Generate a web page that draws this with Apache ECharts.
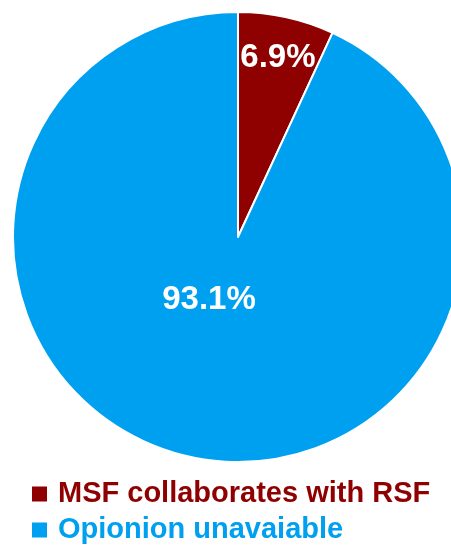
<!DOCTYPE html>
<html>
<head>
<meta charset="utf-8">
<script src="https://cdn.jsdelivr.net/npm/echarts@6/dist/echarts.min.js"></script>
<style>
  html, body { margin: 0; padding: 0; background: #ffffff; }
  #chart { width: 451px; height: 547px; }
</style>
</head>
<body>
<div id="chart"></div>
<script>
// Survey answers, share of respondents (%)
const categories = ['MSF collaborates with RSF', 'Opionion unavaiable'];
const shares = [6.9, 93.1];
const colors = ['#8f0000', '#00a0f0'];
// Label placement inside each slice: fraction of radius and angle shift (deg)
const labelRadiusFrac = [0.825, 0.30];
const labelAngleShift = [0, -13];

const FONT = '"Liberation Sans", Arial, sans-serif';
const CX = 238, CY = 237, R = 225;

const chart = echarts.init(document.getElementById('chart'), null, { renderer: 'canvas' });

const total = shares.reduce((a, b) => a + b, 0);
const midAngles = [];
let acc = 0;
shares.forEach(v => {
  midAngles.push(90 - (acc + v / 2) / total * 360);
  acc += v;
});

chart.setOption({
  animation: false,
  legend: {
    orient: 'vertical',
    left: 32,
    top: 479,
    padding: 0,
    itemWidth: 15,
    itemHeight: 15,
    itemGap: 6,
    icon: 'rect',
    itemStyle: { borderWidth: 0 },
    data: categories.map((c, i) => ({
      name: c,
      textStyle: { color: colors[i] }
    })),
    textStyle: {
      fontFamily: FONT,
      fontWeight: 'bold',
      fontSize: 29,
      lineHeight: 30,
      padding: [0, 0, 0, 6]
    }
  },
  series: [{
    type: 'pie',
    center: [CX, CY],
    radius: [0, R],
    startAngle: 90,
    clockwise: true,
    silent: true,
    itemStyle: { borderColor: '#ffffff', borderWidth: 2 },
    label: {
      show: true,
      position: 'inside',
      formatter: p => p.value.toFixed(1) + '%',
      color: '#ffffff',
      fontFamily: FONT,
      fontWeight: 'bold',
      fontSize: 33
    },
    labelLine: { show: false },
    labelLayout: params => {
      const i = params.dataIndex;
      const a = (midAngles[i] + labelAngleShift[i]) * Math.PI / 180;
      const rr = labelRadiusFrac[i] * R;
      return {
        x: CX + rr * Math.cos(a),
        y: CY - rr * Math.sin(a) + 2,
        align: 'center',
        verticalAlign: 'middle'
      };
    },
    data: categories.map((c, i) => ({
      name: c,
      value: shares[i],
      itemStyle: { color: colors[i] }
    }))
  }]
});
</script>
</body>
</html>
